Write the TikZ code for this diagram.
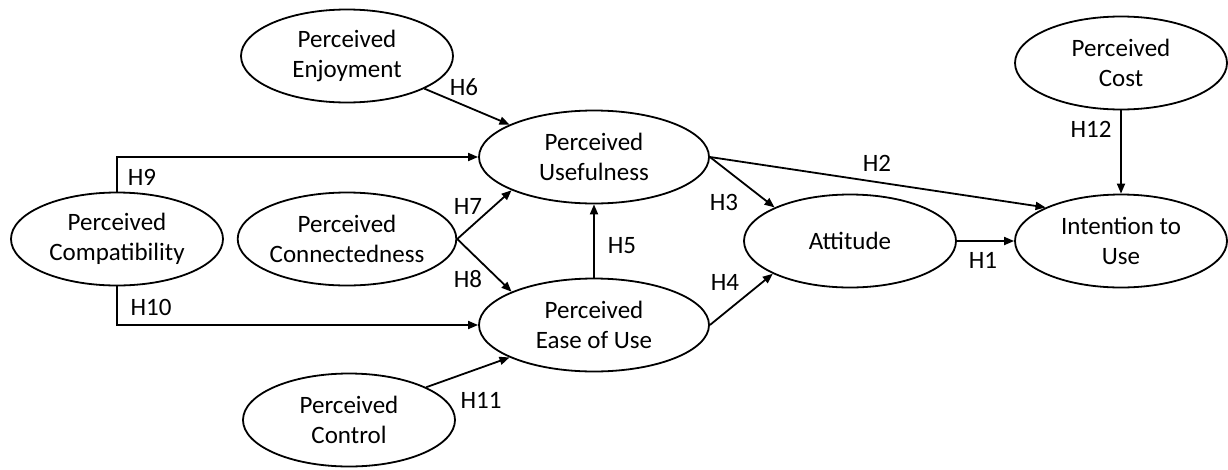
\documentclass[tikz,border=0pt]{standalone}
\usepackage{fontspec}
\setmainfont{Carlito}
\usetikzlibrary{shapes.geometric,arrows.meta}
\begin{document}
\begin{tikzpicture}[x=1pt,y=-1pt,
  construct/.style={ellipse,draw,line width=1.8pt,inner sep=0pt,align=center,
    minimum width=212pt,minimum height=93pt,font=\fontsize{25}{30}\selectfont},
  wide/.style={minimum width=230pt},
  link/.style={line width=1.8pt,-{Triangle[length=10pt,width=8pt]}},
  hyp/.style={font=\fontsize{25}{30}\selectfont,inner sep=0pt}]
\useasboundingbox (0,0) rectangle (1228,469);
\node[construct] (enj) at (347,56) {Perceived\\Enjoyment};
\node[construct,wide] (use) at (594,157) {Perceived\\Usefulness};
\node[construct] (comp) at (117,239) {Perceived\\Compatibility};
\node[construct] (con) at (347,239) {Perceived\\Connectedness};
\node[construct,wide] (ease) at (594,325) {Perceived\\Ease of Use};
\node[construct] (ctrl) at (349,420) {Perceived\\Control};
\node[construct] (att) at (850,241) {Attitude};
\node[construct] (int) at (1121,241) {Intention to\\Use};
\node[construct] (cost) at (1121,63) {Perceived\\Cost};

\draw[link] (enj) -- (use.159);
\draw[link] (comp.north) |- (use.west);
\draw[link] (comp.south) |- (ease.west);
\draw[link] (con.east) -- (use.202);
\draw[link] (con.east) -- (ease.158);
\draw[link] (ease.north) -- (use.south);
\draw[link] (ctrl.23) -- (ease.201);
\draw[link] (use.east) -- (att.156);
\draw[link] (use.east) -- (int.156);
\draw[link] (ease.east) -- (att.203);
\draw[link] (att.east) -- (int.west);
\draw[link] (cost.south) -- (int.north);

\node[hyp] (h6) at (464,87) {H6};
\node[hyp] (h9) at (142,177) {H9};
\node[hyp] (h10) at (151,307) {H10};
\node[hyp] (h7) at (468,206) {H7};
\node[hyp] (h8) at (468,279) {H8};
\node[hyp] (h5) at (622,246) {H5};
\node[hyp] (h11) at (481,400) {H11};
\node[hyp] (h3) at (724,202) {H3};
\node[hyp] (h2) at (877,163) {H2};
\node[hyp] (h4) at (725,282) {H4};
\node[hyp] (h1) at (983,260) {H1};
\node[hyp] (h12) at (1091,129) {H12};
\end{tikzpicture}
\end{document}
